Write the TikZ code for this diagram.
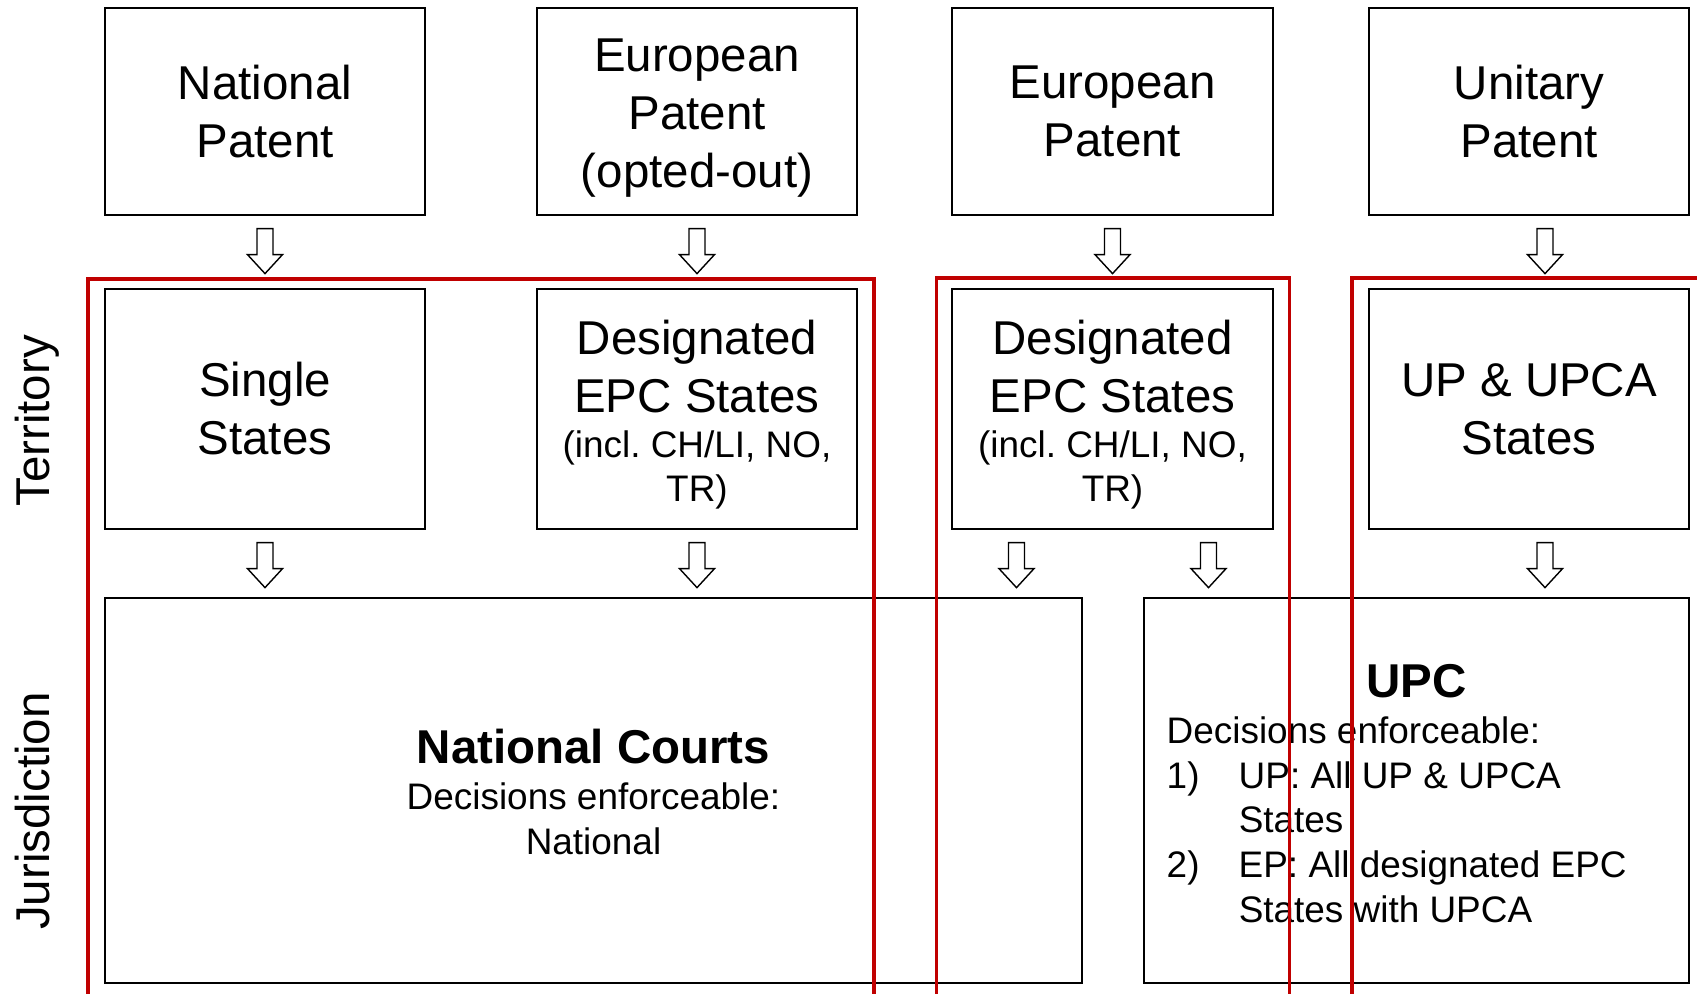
\documentclass[tikz,border=0pt]{standalone}
\usepackage{fontspec}
\setmainfont{Liberation Sans}
\usetikzlibrary{calc}
\definecolor{framered}{HTML}{C00000}
\newcommand{\boxfont}{\fontsize{13.5}{16.5}\selectfont}
\newcommand{\notefont}{\fontsize{10.5}{12.7}\selectfont}
\newcommand{\blockarrow}[2]{\draw[line width=0.4pt,fill=white] ($(#1.south)+(#2-8,12.5)$)--++(16,0)--++(0,26)--++(9.5,0)--++(-17.5,19)--++(-17.5,-19)--++(9.5,0)--cycle;}

\begin{document}
\begin{tikzpicture}[x=0.01cm,y=-0.01cm,
        box/.style={draw,line width=0.6pt,minimum width=3.2cm,inner sep=0pt,align=center,font=\boxfont},
        redframe/.style={draw=framered,line width=1pt}]
            \clip (0,0) rectangle (1697,994);
            \node[box,minimum height=2.07cm] (natpat) at (265,111.5) {National\\Patent};
            \node[box,minimum height=2.07cm] (eppo) at (697,111.5) {};
            \node[font=\boxfont,align=center] (eppo-t) at (697,118.5) {European\\Patent\\(opted-out)};
            \node[box,minimum height=2.07cm] (ep) at (1112.5,111.5) {European\\Patent};
            \node[box,minimum height=2.07cm] (up) at (1529,111.5) {Unitary\\Patent};
            \node[box,minimum height=2.4cm] (single) at (265,409) {Single\\States};
            \node[box,minimum height=2.4cm] (des1) at (697,409) {};
            \node[font=\boxfont,align=center] (des1-a) at (697,367) {Designated\\EPC States};
            \node[font=\notefont,align=center] (des1-b) at (697,470) {(incl.\ CH/LI, NO,\\TR)};
            \node[box,minimum height=2.4cm] (des2) at (1112.5,409) {};
            \node[font=\boxfont,align=center] (des2-a) at (1112.5,367) {Designated\\EPC States};
            \node[font=\notefont,align=center] (des2-b) at (1112.5,470) {(incl.\ CH/LI, NO,\\TR)};
            \node[box,minimum height=2.4cm] (upcas) at (1529,409) {UP \& UPCA\\States};
            \node[box,minimum width=9.77cm,minimum height=3.85cm] (nc) at (593.5,790.5) {};
            \node[font=\boxfont\bfseries,anchor=base] (nc-title) at (593.5,763) {National Courts};
            \node[font=\notefont,align=center] (nc-note) at (593.5,819) {Decisions enforceable:\\National};
            \node[box,minimum width=5.45cm,minimum height=3.85cm] (upc) at (1416.5,790.5) {};
            \node[font=\boxfont\bfseries,anchor=base] (upc-title) at (1416.5,697) {UPC};
            \node[font=\notefont,align=left,anchor=north west,inner sep=0pt] (upc-note) at (1166,716) {Decisions enforceable:\\\makebox[0.72cm][l]{1)}UP: All UP \& UPCA\\\hspace*{0.72cm}States\\\makebox[0.72cm][l]{2)}EP: All designated EPC\\\hspace*{0.72cm}States with UPCA};
            \node[font=\boxfont,rotate=90,anchor=base] (territory) at (49,421) {Territory};
            \node[font=\boxfont,rotate=90,anchor=base] (jurisdiction) at (49,811) {Jurisdiction};
            \blockarrow{natpat}{0}
            \blockarrow{eppo}{0}
            \blockarrow{ep}{0}
            \blockarrow{up}{16}
            \blockarrow{single}{0}
            \blockarrow{des1}{0}
            \blockarrow{des2}{-96}
            \blockarrow{des2}{96}
            \blockarrow{upcas}{16}
            \draw[redframe] ($(single.north west)+(-16,-9)$) rectangle ($(des1.north east)+(16,800)$);
            \draw[redframe] ($(des2.north west)+(-15,-10)$) rectangle ($(des2.north east)+(16,800)$);
            \draw[redframe] ($(upcas.north west)+(-16,-10)$) rectangle ($(upcas.north east)+(100,800)$);
        \end{tikzpicture}
\end{document}
